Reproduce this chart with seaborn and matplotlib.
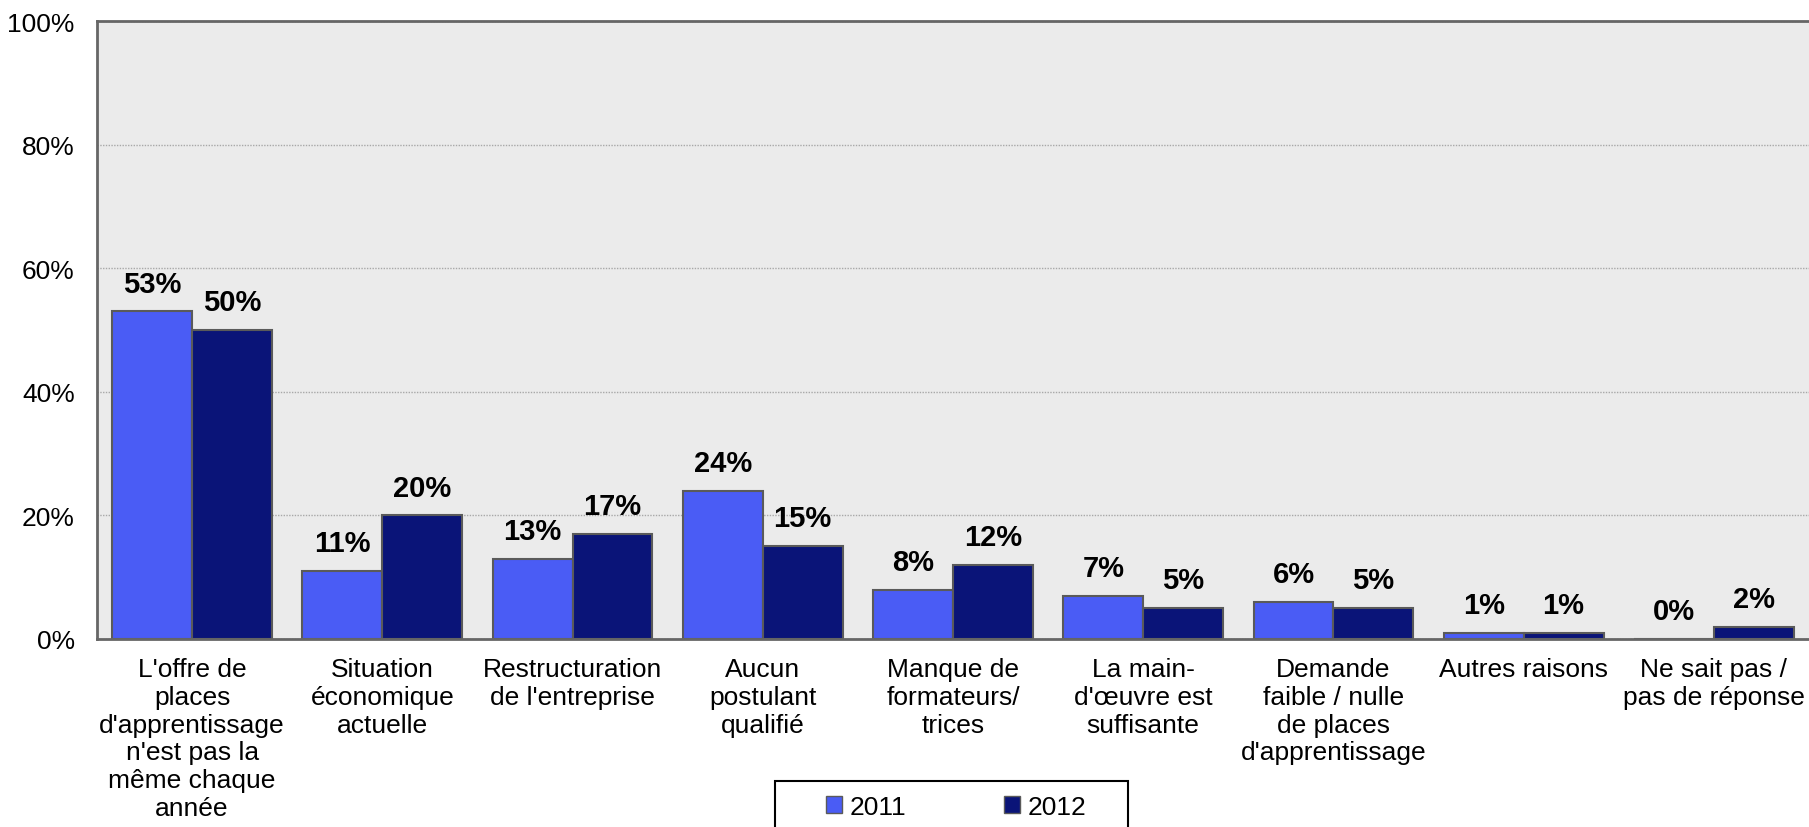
import matplotlib
matplotlib.use("Agg")
import matplotlib.pyplot as plt
from matplotlib.patches import Patch, Rectangle
import seaborn as sns
import pandas as pd

categories = [
    "L'offre de\nplaces\nd'apprentissage\nn'est pas la\nmême chaque\nannée",
    "Situation\néconomique\nactuelle",
    "Restructuration\nde l'entreprise",
    "Aucun\npostulant\nqualifié",
    "Manque de\nformateurs/\ntrices",
    "La main-\nd'œuvre est\nsuffisante",
    "Demande\nfaible / nulle\nde places\nd'apprentissage",
    "Autres raisons",
    "Ne sait pas /\npas de réponse",
]
years = ["2011", "2012"]
values_2011 = [53, 11, 13, 24, 8, 7, 6, 1, 0]
values_2012 = [50, 20, 17, 15, 12, 5, 5, 1, 2]
colors = ["#4a5cf5", "#0a1478"]

df = pd.DataFrame({
    "cat": categories * 2,
    "year": [years[0]] * len(categories) + [years[1]] * len(categories),
    "val": values_2011 + values_2012,
})

sns.set_style("white")
plt.rcParams["font.family"] = ["Liberation Sans", "DejaVu Sans"]
plt.rcParams["text.color"] = "black"
plt.rcParams["xtick.color"] = "black"
plt.rcParams["ytick.color"] = "black"

fig = plt.figure(figsize=(18.09, 8.28), dpi=100)
ax = fig.add_axes([97 / 1809, 1 - 640 / 828, 1 - 97 / 1809, (640 - 22) / 828])
ax.set_facecolor("#ebebeb")

sns.barplot(data=df, x="cat", y="val", hue="year", palette=colors,
            saturation=1, width=0.84, edgecolor="#5a5a5a", linewidth=1.5,
            ax=ax, legend=False, errorbar=None)

for cont in ax.containers:
    ax.bar_label(cont, fmt="{:.0f}%", padding=10, fontsize=21,
                 fontweight="bold", color="black")

ax.set_ylim(0, 100)
ax.set_xlim(-0.5, len(categories) - 0.5)
ax.set_yticks([0, 20, 40, 60, 80, 100])
ax.set_yticklabels([f"{v}%" for v in [0, 20, 40, 60, 80, 100]], fontsize=19)
ax.tick_params(axis="y", length=0, pad=16)
ax.tick_params(axis="x", length=0, pad=13, labelsize=19)
for lab in ax.get_xticklabels():
    lab.set_linespacing(1.2)
ax.set_xlabel("")
ax.set_ylabel("")
ax.yaxis.grid(True, color="#a8a8a8", linewidth=1, linestyle=(0, (1, 1)))
ax.set_axisbelow(True)
for side in ["left", "top", "bottom"]:
    ax.spines[side].set_color("#666666")
    ax.spines[side].set_linewidth(2)
ax.spines["right"].set_visible(False)

handles = [Patch(facecolor=c, edgecolor="#5a5a5a", linewidth=1) for c in colors]
fig.legend(handles, years, loc="center left",
           bbox_to_anchor=(802 / 1809, 1 - 808 / 828), ncol=2, frameon=False,
           fontsize=19, handlelength=0.6, handleheight=0.6,
           handletextpad=0.3, columnspacing=3.7)
fig.patches.append(Rectangle((775 / 1809, -0.05), (1128 - 775) / 1809,
                             0.05 + 1 - 782 / 828, transform=fig.transFigure,
                             fill=False, edgecolor="black", linewidth=1.5))

fig.savefig("out.png", dpi=100)
